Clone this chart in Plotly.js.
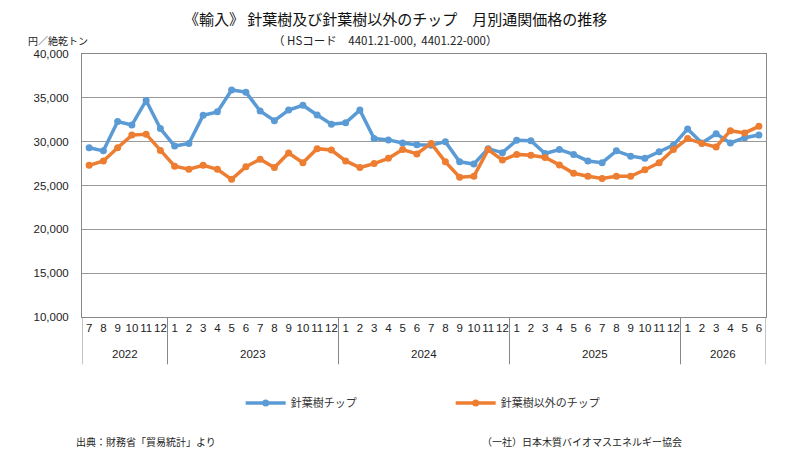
<!DOCTYPE html>
<html>
<head>
<meta charset="utf-8">
<script src="https://cdn.plot.ly/plotly-3.0.1.min.js"></script>
<style>
  body { margin: 0; background: #fff; }
  #chart { width: 794px; height: 459px; }
</style>
</head>
<body>
<div id="chart"></div>
<script>
// months shown on the axis, grouped by year
var yearSpans = [['2022', 7, 12], ['2023', 1, 12], ['2024', 1, 12], ['2025', 1, 12], ['2026', 1, 6]];

// 針葉樹チップ (円/絶乾トン)
var softwood = [29300, 28950, 32300, 31900, 34700, 31500,
  29500, 29800, 33000, 33400, 35900, 35650, 33500, 32400, 33600, 34150, 33050, 32000,
  32150, 33600, 30350, 30200, 29850, 29650, 29600, 30000, 27700, 27450, 29200, 28750,
  30150, 30100, 28650, 29100, 28550, 27800, 27600, 28950, 28350, 28100, 28850, 29600,
  31450, 29850, 30900, 29850, 30450, 30750];

// 針葉樹以外のチップ
var otherChip = [27300, 27800, 29300, 30750, 30850, 29000,
  27200, 26850, 27300, 26850, 25700, 27150, 28000, 27050, 28700, 27600, 29200, 29050,
  27800, 27050, 27500, 28100, 29100, 28600, 29800, 27700, 25950, 26050, 29100, 27900,
  28550, 28450, 28200, 27350, 26400, 26050, 25800, 26050, 26050, 26800, 27600, 29100,
  30350, 29800, 29400, 31250, 31000, 31750];

var xs = [];
var monthText = [];
var shapes = [];
var annotations = [];
var i = 0;
yearSpans.forEach(function (s) {
  var start = i;
  for (var m = s[1]; m <= s[2]; m++) {
    xs.push(i);
    monthText.push(String(m));
    i++;
  }
  // divider at the start of each year block
  shapes.push({type: 'line', xref: 'x', yref: 'paper', x0: start - 0.5, x1: start - 0.5,
    y0: 0, y1: -0.18, line: {color: '#888', width: 1}});
  annotations.push({text: s[0], xref: 'x', yref: 'paper', x: (start + i - 1) / 2, y: 0, yshift: -37,
    yanchor: 'middle', showarrow: false,
    font: {family: '"Liberation Sans Narrow", "Liberation Sans", sans-serif', size: 11.5, color: '#222'}});
});
shapes.push({type: 'line', xref: 'x', yref: 'paper', x0: i - 0.5, x1: i - 0.5,
  y0: 0, y1: -0.18, line: {color: '#888', width: 1}});

var jp = '"Noto Sans CJK JP", sans-serif';
var num = '"Liberation Sans Narrow", "Liberation Sans", sans-serif';

var data = [
  {
    x: xs, y: softwood, name: '針葉樹チップ',
    type: 'scatter', mode: 'lines+markers',
    line: {color: '#5B9BD5', width: 3.5},
    marker: {color: '#5B9BD5', size: 7}
  },
  {
    x: xs, y: otherChip, name: '針葉樹以外のチップ',
    type: 'scatter', mode: 'lines+markers',
    line: {color: '#ED7D31', width: 3.5},
    marker: {color: '#ED7D31', size: 7}
  }
];

annotations.push(
  {text: '《輸入》 針葉樹及び針葉樹以外のチップ　月別通関価格の推移', xref: 'paper', yref: 'paper',
    x: 0.458, y: 1, yshift: 36, yanchor: 'middle', showarrow: false, font: {family: jp, size: 15, color: '#111'}},
  {text: '（ HSコード　4401.21-000,  4401.22-000）', xref: 'paper', yref: 'paper',
    x: 0.443, y: 1, yshift: 14, yanchor: 'middle', showarrow: false, font: {family: jp, size: 11.5, color: '#222'}},
  {text: '円／絶乾トン', xref: 'paper', yref: 'paper', x: 0, xshift: -56, xanchor: 'left',
    y: 1, yshift: 14, yanchor: 'middle', showarrow: false, font: {family: jp, size: 10, color: '#222'}},
  {text: '出典：財務省「貿易統計」より', xref: 'paper', yref: 'paper', x: 0, xshift: -8, xanchor: 'left',
    y: 0, yshift: -124, yanchor: 'middle', showarrow: false, font: {family: jp, size: 10, color: '#222'}},
  {text: '（一社）日本木質バイオマスエネルギー協会', xref: 'paper', yref: 'paper', x: 0, xshift: 398, xanchor: 'left',
    y: 0, yshift: -124, yanchor: 'middle', showarrow: false, font: {family: jp, size: 10, color: '#222'}}
);

var layout = {
  width: 794,
  height: 459,
  margin: {l: 82, r: 28, t: 54, b: 142},
  paper_bgcolor: '#fff',
  plot_bgcolor: '#fff',
  showlegend: true,
  legend: {
    orientation: 'h', x: 0.232, xanchor: 'left', xref: 'paper',
    y: -0.327, yanchor: 'middle',
    entrywidth: 155, itemwidth: 40,
    font: {family: jp, size: 11, color: '#333'}
  },
  xaxis: {
    range: [-0.5, xs.length - 0.5],
    tickmode: 'array', tickvals: xs, ticktext: monthText, tickangle: 0,
    showline: true, linecolor: '#888', linewidth: 1, mirror: true,
    showgrid: false, zeroline: false, ticks: '',
    tickfont: {family: num, size: 11.5, color: '#222'}
  },
  yaxis: {
    range: [10000, 40000], dtick: 5000,
    tickformat: ',d',
    showline: true, linecolor: '#888', linewidth: 1, mirror: true,
    gridcolor: '#999', gridwidth: 1,
    ticks: '', zeroline: false, ticklabelstandoff: 10,
    tickfont: {family: num, size: 11.5, color: '#222'}
  },
  shapes: shapes,
  annotations: annotations
};

Plotly.newPlot('chart', data, layout, {displayModeBar: false, staticPlot: true});
</script>
</body>
</html>
